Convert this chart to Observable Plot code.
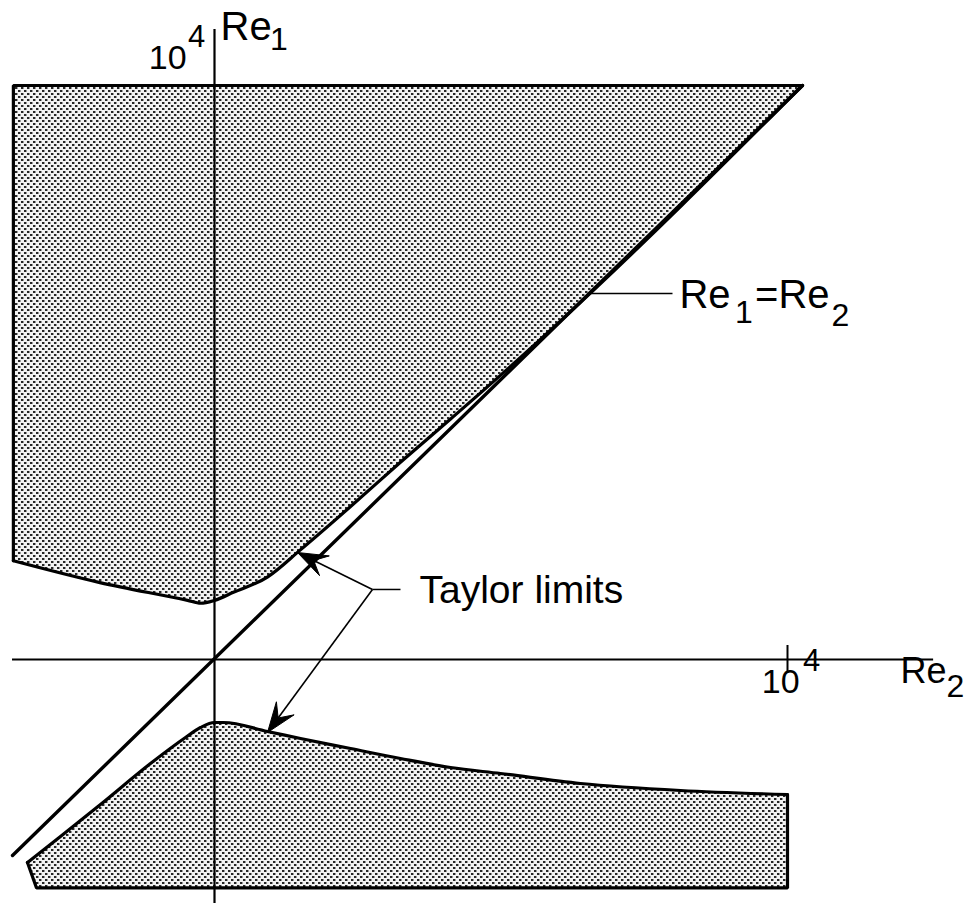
<!DOCTYPE html>
<html><head><meta charset="utf-8">
<script src="https://cdn.jsdelivr.net/npm/d3@7"></script>
<script src="https://cdn.jsdelivr.net/npm/@observablehq/plot@0.6"></script>
<style>html,body{margin:0;padding:0;background:#fff;overflow:hidden}svg{display:block}</style>
</head><body><div id="chart"></div>
<script>
// Re2 is on the x axis, Re1 on the y axis.
// Upper (unstable) region: lower boundary (Taylor limit), bounded above at Re1 = 1e4
const upperEdgeRe2 = [-3510, -2000, -470, -240, 0, 330, 930, 1500, 2370, 3250, 4120, 4990, 6040, 10260];
const upperEdgeRe1 = [1720, 1340, 1030, 980, 1030, 1170, 1440, 1910, 2660, 3440, 4190, 4950, 5900, 10000];
const upperTopRe1 = 10000;
// Lower (unstable) region: upper boundary (Taylor limit)
const lowerEdgeRe2 = [-3264, -2688, -1990, -1117, -506, -244, 0, 157, 925, 1501, 2374, 3246, 4119, 4991, 6387, 8133, 10000];
const lowerEdgeRe1 = [-3537, -3084, -2526, -1812, -1359, -1185, -1098, -1098, -1254, -1376, -1551, -1725, -1882, -1986, -2160, -2282, -2352];
const lowerBottomRe1 = -3980;
const lowerBottomLeftRe2 = -3106;
// Re1 = Re2 line
const diagonalRe2 = [-3525, 10262];
const diagonalRe1 = [-3415, 10000];
// Axes extents and ticks
const axisRe2Extent = [-3525, 12550];
const axisRe1Extent = [-4300, 10976];
const tickRe2 = [10000];
const tickHalf = 244;
// Annotation leaders
const taylorHub = {x: 2757, y: 1220};
const taylorLabelEnd = {x: 3246, y: 1220};
const taylorTips = [{x: 1449, y: 1864}, {x: 925, y: -1272}];
const eqLeader = {x1: 6510, x2: 7993, y: 6376};
// Text labels (base text and sub/superscripts)
const labelText = ["Re", "1", "10", "4", "10", "4", "Re", "2", "Re", "1", "=Re", "2", "Taylor limits"];
const labelRe2  = [105, 969, -1147, -464, 9552, 10269, 11972, 12775, 8115, 9084, 9434, 10768, 3578];
const labelRe1  = [10784, 10610, 10296, 10662, -575, -192, -418, -662, 6115, 5854, 6115, 5802, 993];
const labelSize = [40, 32, 34, 31, 34, 31, 36, 32, 40, 32, 40, 32, 39];

const upper = upperEdgeRe2.map((x, i) => ({x, y: upperEdgeRe1[i]}));
const upperFrame = [
  {x: upperEdgeRe2[0], y: upperEdgeRe1[0]},
  {x: upperEdgeRe2[0], y: upperTopRe1},
  {x: upperEdgeRe2[upperEdgeRe2.length - 1], y: upperTopRe1}
];
const lower = lowerEdgeRe2.map((x, i) => ({
  x, y: lowerEdgeRe1[i],
  bx: i === 0 ? lowerBottomLeftRe2 : x, by: lowerBottomRe1
}));
const lastL = lower[lower.length - 1];
const lowerFrame = [
  {x: lower[0].x, y: lower[0].y},
  {x: lowerBottomLeftRe2, y: lowerBottomRe1},
  {x: lastL.x, y: lowerBottomRe1},
  {x: lastL.x, y: lastL.y}
];
const diagonal = diagonalRe2.map((x, i) => ({x, y: diagonalRe1[i]}));
const labels = labelText.map((t, i) => ({t, x: labelRe2[i], y: labelRe1[i], s: labelSize[i]}));

// filled barbed arrowheads derived from the leader geometry
const U = 17.44; // data units per pixel (approx, both axes)
const heads = taylorTips.flatMap((tip, k) => {
  const dx = tip.x - taylorHub.x, dy = tip.y - taylorHub.y;
  const L = Math.hypot(dx, dy), ux = dx / L, uy = dy / L, nx = -uy, ny = ux;
  const len = 30 * U, w = 11 * U, notch = 0.6 * len;
  return [
    {k, x: tip.x, y: tip.y},
    {k, x: tip.x - len * ux + w * nx, y: tip.y - len * uy + w * ny},
    {k, x: tip.x - notch * ux, y: tip.y - notch * uy},
    {k, x: tip.x - len * ux - w * nx, y: tip.y - len * uy - w * ny},
    {k, x: tip.x, y: tip.y}
  ];
});

const chart = Plot.plot({
  width: 977,
  height: 903,
  margin: 0,
  x: {domain: [-3734.7, 13315.9], axis: null},
  y: {domain: [-4250.9, 11480.8], axis: null},
  style: {fontFamily: "'Liberation Sans', Arial, Helvetica, sans-serif", background: "#fff", color: "#000"},
  marks: [
    Plot.areaY(upper, {x: "x", y1: "y", y2: upperTopRe1, fill: "url(#dots)", curve: "monotone-x"}),
    Plot.area(lower, {x1: "bx", y1: "by", x2: "x", y2: "y", fill: "url(#dots)", curve: "monotone-x"}),
    Plot.ruleY([0], {x1: axisRe2Extent[0], x2: axisRe2Extent[1], strokeWidth: 2}),
    Plot.ruleX([0], {y1: axisRe1Extent[0], y2: axisRe1Extent[1], strokeWidth: 2.2}),
    Plot.ruleX(tickRe2, {y1: -tickHalf, y2: tickHalf, strokeWidth: 2}),
    Plot.line(upper, {x: "x", y: "y", curve: "monotone-x", strokeWidth: 3.2}),
    Plot.line(upperFrame, {x: "x", y: "y", strokeWidth: 3.2, strokeLinejoin: "miter"}),
    Plot.line(lower, {x: "x", y: "y", curve: "monotone-x", strokeWidth: 3.2}),
    Plot.line(lowerFrame, {x: "x", y: "y", strokeWidth: 3.2, strokeLinejoin: "miter"}),
    Plot.line(diagonal, {x: "x", y: "y", strokeWidth: 3.4}),
    Plot.link([eqLeader], {x1: "x1", x2: "x2", y1: "y", y2: "y", strokeWidth: 1.5}),
    Plot.link([{...taylorHub, x2: taylorLabelEnd.x, y2: taylorLabelEnd.y}], {x1: "x", y1: "y", x2: "x2", y2: "y2", strokeWidth: 1.5}),
    Plot.link(taylorTips, {x1: taylorHub.x, y1: taylorHub.y, x2: "x", y2: "y", strokeWidth: 1.6}),
    Plot.line(heads, {x: "x", y: "y", z: "k", fill: "#000", stroke: "#000", strokeWidth: 1}),
    Plot.text(labels, {x: "x", y: "y", text: "t", fontSize: d => d.s, textAnchor: "start", lineAnchor: "bottom", fill: "#000"})
  ]
});

// halftone-like dot pattern for the shaded regions
const NS = "http://www.w3.org/2000/svg";
const defs = document.createElementNS(NS, "defs");
const pat = document.createElementNS(NS, "pattern");
pat.setAttribute("id", "dots");
pat.setAttribute("width", "6");
pat.setAttribute("height", "6");
pat.setAttribute("patternUnits", "userSpaceOnUse");
[[0, 0, 6, 6, "#f2f2f2"], [0, 0, 2, 2, "#262626"], [3, 3, 2, 2, "#262626"], [2, 0, 1, 2, "#9a9a9a"], [5, 3, 1, 2, "#9a9a9a"]].forEach(([x, y, w, h, f]) => {
  const r = document.createElementNS(NS, "rect");
  r.setAttribute("x", x); r.setAttribute("y", y);
  r.setAttribute("width", w); r.setAttribute("height", h);
  r.setAttribute("fill", f);
  pat.appendChild(r);
});
defs.appendChild(pat);
chart.insertBefore(defs, chart.firstChild);
document.getElementById("chart").appendChild(chart);
</script>
</body></html>
